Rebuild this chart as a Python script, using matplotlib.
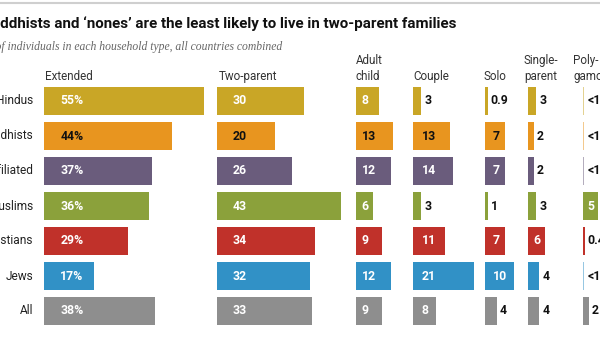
import matplotlib
matplotlib.use("Agg")
import matplotlib.pyplot as plt

# data (% of individuals in each household type)
groups = ["Hindus", "Buddhists", "Unaffiliated", "Muslims", "Christians", "Jews", "All"]
extended = [55, 44, 37, 36, 29, 17, 38]
two_parent = [30, 20, 26, 43, 34, 32, 33]
adult_child = [8, 13, 12, 6, 9, 12, 9]
couple = [3, 13, 14, 3, 11, 21, 8]
solo = [0.9, 7, 7, 1, 7, 10, 4]
single_parent = [3, 2, 2, 3, 6, 4, 4]
polygamous = [0.4, 0.4, 0.4, 5, 0.5, 0.4, 2]
poly_labels = ["<1", "<1", "<1", "5", "0.4", "<1", "2"]

headers = ["Extended", "Two-parent", "Adult\nchild", "Couple", "Solo", "Single-\nparent", "Poly-\ngamous"]
colors = ["#C9A626", "#E8951F", "#6A5C7C", "#8BA13B", "#C0312A", "#3191C6", "#8E8E8E"]

W, H = 600, 337
fig = plt.figure(figsize=(6, 3.37), dpi=100)
fig.patch.set_facecolor("white")

FONT = "Roboto"
SCALE = 2.9          # px per percentage point
col_x = [44.3, 216.7, 355.7, 412.7, 485, 527.7, 583.3]
head_x = [45, 219, 355.7, 413, 484, 524, 573]
pad_in = [16, 16, 6, 9, 8, 6, 4]
row_top, row_step = 83.5, 35


def fx(px):
    return px / W


def fy(py):
    return 1 - py / H


# top rule
fig.add_artist(plt.Line2D([0, 1], [fy(3), fy(3)], color="#cfcfcf", lw=1.5))

# title / subtitle, cropped on the left like the reference
rend = fig.canvas.get_renderer()
title = "Buddhists and \u2018nones\u2019 are the least likely to live in two-parent families"
sub = "% of individuals in each household type, all countries combined"
t_size, s_size = 10.9, 8.4
tmp = fig.text(0, 0, "Bu", fontsize=t_size, fontweight="bold", family=FONT)
off_t = tmp.get_window_extent(rend).width
tmp.remove()
tmp = fig.text(0, 0, "% o", fontsize=s_size, style="italic", family="Liberation Serif")
off_s = tmp.get_window_extent(rend).width
tmp.remove()
fig.text(fx(-off_t), fy(24), title, fontsize=t_size, fontweight="bold", family=FONT,
         color="#111111", va="center")
fig.text(fx(-off_s + 1), fy(47), sub, fontsize=s_size, style="italic", family="Liberation Serif",
         color="#666666", va="center")

columns = [extended, two_parent, adult_child, couple, solo, single_parent, polygamous]
n = len(groups)
ax_h = row_step * n

for c, vals in enumerate(columns):
    x0 = col_x[c]
    x1 = col_x[c + 1] - 4 if c + 1 < len(col_x) else W + 20
    ax = fig.add_axes([fx(x0), fy(row_top + ax_h), fx(x1 - x0), ax_h / H])
    ax.set_xlim(0, (x1 - x0) / SCALE)
    ax.set_ylim(n - 0.5, -0.5)
    ax.axis("off")
    for i, v in enumerate(vals):
        faint = c == 6 and poly_labels[i] == "<1"
        ax.barh(i, v, height=0.8, color=colors[i], alpha=0.5 if faint else 1, linewidth=0)
        if c == 0:
            lab = f"{v:g}%"
        elif c == 6:
            lab = poly_labels[i]
        else:
            lab = f"{v:g}"
        if v >= 5:
            tc = "#111111" if i == 1 else "white"
            ax.text(pad_in[c] / SCALE, i, lab, color=tc, fontsize=8.8, fontweight="bold",
                    family=FONT, va="center", ha="left", clip_on=False)
        else:
            ax.text(v + 3 / SCALE, i, lab, color="#111111", fontsize=8.8, fontweight="bold",
                    family=FONT, va="center", ha="left", clip_on=False)
    # header lines stack upward from a common baseline
    fig.text(fx(head_x[c]), fy(80), headers[c], fontsize=8.4, family=FONT, color="#333333",
             va="baseline", ha="left", linespacing=1.3)

for i, g in enumerate(groups):
    fig.text(fx(33), fy(row_top + row_step * (i + 0.5)), g, fontsize=8.6, family=FONT,
             color="#222222", va="center", ha="right")

fig.savefig("out.png", dpi=100)
